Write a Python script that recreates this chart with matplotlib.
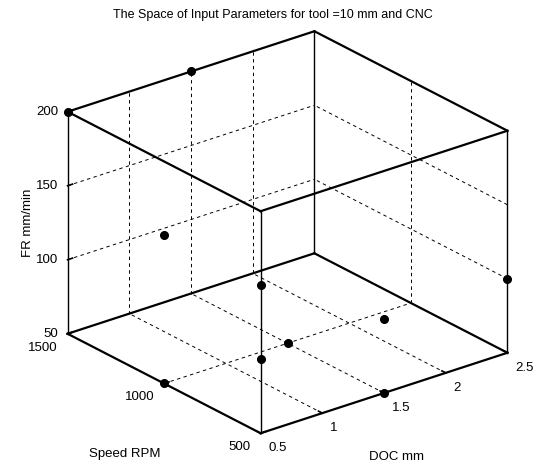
import numpy as np
import matplotlib
matplotlib.use('Agg')
import matplotlib.pyplot as plt
from mpl_toolkits.mplot3d import proj3d

# design points: DOC (mm), spindle speed (RPM), feed rate (mm/min)
doc = [0.5, 1.5, 0.5, 0.5, 0.5, 1.5, 1.5, 2.5, 1.5, 0.5]
speed = [1500, 1500, 1000, 500, 500, 1000, 500, 500, 500, 1000]
fr = [200, 200, 150, 150, 100, 50, 100, 100, 50, 50]

doc_ticks = [0.5, 1, 1.5, 2, 2.5]
doc_labels = ['0.5', '1', '1.5', '2', '2.5']
speed_ticks = [500, 1000, 1500]
speed_labels = ['500', '1000', '1500']
fr_ticks = [50, 100, 150, 200]
fr_labels = ['50', '100', '150', '200']

plt.rcParams['font.family'] = ['Liberation Sans', 'DejaVu Sans']
plt.rcParams['font.size'] = 9.5

W, H = 548, 471
fig = plt.figure(figsize=(W / 100, H / 100), dpi=100)
ax = fig.add_axes([0.1, 0.1, 0.8, 0.8], projection='3d', proj_type='ortho',
                  computed_zorder=False)
ax.set_axis_off()
ax.view_init(elev=24.2, azim=-128.5)
ax.set_box_aspect((1.017, 1, 0.785))

x0, x1 = doc_ticks[0], doc_ticks[-1]
y0, y1 = speed_ticks[0], speed_ticks[-1]
z0, z1 = fr_ticks[0], fr_ticks[-1]
ax.set_xlim(x0, x1)
ax.set_ylim(y0, y1)
ax.set_zlim(z0, z1)


def proj2d(x, y, z):
    xs, ys, _ = proj3d.proj_transform(x, y, z, ax.get_proj())
    return float(xs), float(ys)


def to_px(x, y, z):
    return ax.transData.transform(proj2d(x, y, z))


# fit the box onto the picture (target corners in pixels, y up)
fig.canvas.draw()
corners = [(x0, y0, z0), (x1, y1, z1), (x0, y1, z0), (x1, y0, z0)]
targets = np.array([(260, H - 433), (316, H - 33), (66, H - 333), (508, H - 352)], float)
cur = np.array([to_px(*c) for c in corners])
s = 0.5 * ((targets[3, 0] - targets[2, 0]) / (cur[3, 0] - cur[2, 0]) +
           (targets[1, 1] - targets[0, 1]) / (cur[1, 1] - cur[0, 1]))
bb = ax.get_position()
side = bb.width * W
c = np.array([(bb.x0 + bb.width / 2) * W, (bb.y0 + bb.height / 2) * H])
c_new = targets.mean(axis=0) - s * (cur.mean(axis=0) - c)
side_new = side * s
ax.set_position([(c_new[0] - side_new / 2) / W, (c_new[1] - side_new / 2) / H,
                 side_new / W, side_new / H])
fig.canvas.draw()

grid_kw = dict(color='k', lw=0.7, linestyle=(0, (3.5, 3.5)), zorder=1)
# back wall at max speed
for t in doc_ticks[1:-1]:
    ax.plot([t, t], [y1, y1], [z0, z1], **grid_kw)
for t in fr_ticks[1:-1]:
    ax.plot([x0, x1], [y1, y1], [t, t], **grid_kw)
# back wall at max DOC
for t in speed_ticks[1:-1]:
    ax.plot([x1, x1], [t, t], [z0, z1], **grid_kw)
for t in fr_ticks[1:-1]:
    ax.plot([x1, x1], [y0, y1], [t, t], **grid_kw)
# floor
for t in doc_ticks[1:-1]:
    ax.plot([t, t], [y0, y1], [z0, z0], **grid_kw)
for t in speed_ticks[1:-1]:
    ax.plot([x0, x1], [t, t], [z0, z0], **grid_kw)

# box edges
for yy in (y0, y1):
    for zz in (z0, z1):
        ax.plot([x0, x1], [yy, yy], [zz, zz], color='k', lw=1.6, zorder=2)
for xx in (x0, x1):
    for zz in (z0, z1):
        ax.plot([xx, xx], [y0, y1], [zz, zz], color='k', lw=1.6, zorder=2)
for xx in (x0, x1):
    for yy in (y0, y1):
        ax.plot([xx, xx], [yy, yy], [z0, z1], color='k', lw=1.0, zorder=2)

# tick marks
dx = 0.02 * (x1 - x0)
dy = 0.02 * (y1 - y0)
for t in doc_ticks:
    ax.plot([t, t], [y0, y0 + dy], [z0, z0], color='k', lw=1.2, zorder=3)
for t in speed_ticks:
    ax.plot([x0, x0 + dx], [t, t], [z0, z0], color='k', lw=1.2, zorder=3)
for t in fr_ticks:
    ax.plot([x0, x0 + dx], [y1, y1], [t, t], color='k', lw=1.2, zorder=3)

# data points
ax.plot(doc, speed, fr, 'o', color='k', ms=5.5, zorder=5)

pt = 0.72  # points per pixel


def label(s, xyz, off, **kw):
    ax.annotate(s, xy=proj2d(*xyz), xycoords='data',
                xytext=(off[0] * pt, -off[1] * pt), textcoords='offset points',
                annotation_clip=False, **kw)


for t, s in zip(fr_ticks, fr_labels):
    label(s, (x0, y1, t), (-9, 0), ha='right', va='center')
for t, s in zip(speed_ticks, speed_labels):
    label(s, (x0, t, z0), (-10, 14), ha='right', va='center')
for t, s in zip(doc_ticks, doc_labels):
    label(s, (t, y0, z0), (8, 15), ha='left', va='center')

label('DOC mm', ((x0 + x1) / 2, y0, z0), (12, 64), ha='center', va='center')
label('Speed RPM', (x0, (y0 + y1) / 2, z0), (-39, 71), ha='center', va='center')
label('FR mm/min', (x0, y1, (z0 + z1) / 2), (-40, 0), ha='center', va='center',
      rotation=90)

fig.text(273 / W, 1 - 15 / H, 'The Space of Input Parameters for tool =10 mm and CNC',
         ha='center', va='center', fontsize=9)

fig.savefig('out.png', dpi=100, facecolor='white')
